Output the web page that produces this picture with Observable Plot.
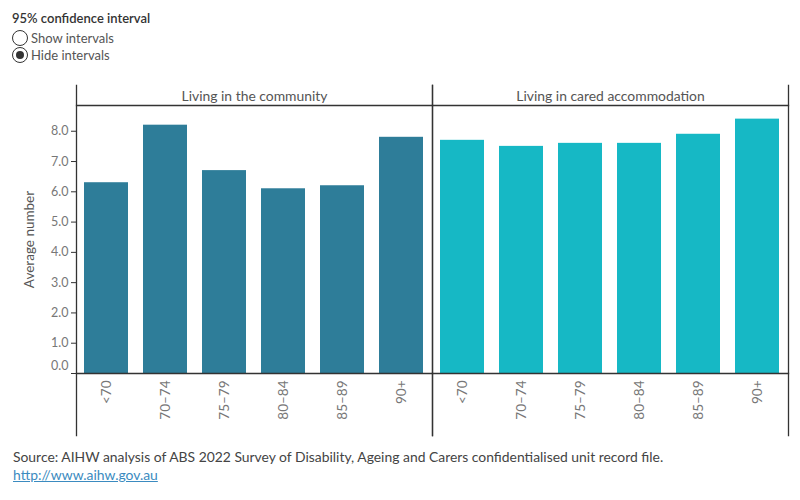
<!DOCTYPE html>
<html>
<head>
<meta charset="utf-8">
<script src="https://cdn.jsdelivr.net/npm/d3@7"></script>
<script src="https://cdn.jsdelivr.net/npm/@observablehq/plot@0.6"></script>
<style>
  body { margin: 0; background: #fff; font-family: Lato, "Open Sans", sans-serif; }
  #controls { position: relative; height: 80px; color: #333; font-size: 13px; }
  #controls .title { position: absolute; left: 12px; top: 10px; font-weight: 600; }
  #controls .opt { position: absolute; left: 12px; display: flex; align-items: center; color: #555; font-size: 13px; }
  #controls .dot { box-sizing: border-box; width: 16px; height: 16px; border: 1.3px solid #333; border-radius: 50%; margin-right: 3px; background: #fff; position: relative; }
  #controls .dot.on::after { content: ""; position: absolute; left: 2.5px; top: 2.5px; width: 8.5px; height: 8.5px; border-radius: 50%; background: #333; }
  #chart svg { display: block; }
  #source { margin: 8px 0 0 13px; font-size: 13.9px; color: #444; line-height: 18px; }
  #source a { color: #3b8bc0; text-decoration: underline; }
</style>
</head>
<body>
<div id="controls">
  <div class="title">95% confidence interval</div>
  <div class="opt" style="top:30px"><span class="dot"></span>Show intervals</div>
  <div class="opt" style="top:47px"><span class="dot on"></span>Hide intervals</div>
</div>
<div id="chart"></div>
<div id="source">Source: AIHW analysis of ABS 2022 Survey of Disability, Ageing and Carers confidentialised unit record file.<br><a href="http://www.aihw.gov.au">http://www.aihw.gov.au</a></div>
<script>
// Living arrangements (facets) and age groups (bars within each facet)
const settings = ["Living in the community", "Living in cared accommodation"];
const ageGroups = ["<70", "70–74", "75–79", "80–84", "85–89", "90+"];

// Average number, by age group
const community = [6.3, 8.2, 6.7, 6.1, 6.2, 7.8];
const caredAccommodation = [7.7, 7.5, 7.6, 7.6, 7.9, 8.4];

// Y axis ticks
const yTicks = [0, 1, 2, 3, 4, 5, 6, 7, 8];

const rows = [
  ...ageGroups.map((age, i) => ({setting: settings[0], age, value: community[i]})),
  ...ageGroups.map((age, i) => ({setting: settings[1], age, value: caredAccommodation[i]}))
];

const line = {stroke: "#333", strokeWidth: 1.3};
const fmt = d3.format(".1f");

const chart = Plot.plot({
  width: 800,
  height: 360,
  marginLeft: 76,
  marginRight: 12,
  marginTop: 25,
  marginBottom: 67,
  style: {fontFamily: "Lato, 'Open Sans', sans-serif", fontSize: "12px", color: "#777", background: "#fff"},
  fx: {domain: settings, padding: 0, label: null},
  x: {domain: ageGroups, paddingInner: 0.25, paddingOuter: 0.1, label: null},
  y: {domain: [0, 8.85], label: null},
  color: {domain: settings, range: ["#2e7d99", "#16b8c5"]},
  marks: [
    Plot.barY(rows, {fx: "setting", x: "age", y: "value", fill: "setting"}),
    Plot.frame({anchor: "left", insetTop: -20, insetBottom: -62, ...line}),
    Plot.frame({anchor: "right", insetTop: -20, insetBottom: -62, ...line}),
    Plot.frame({anchor: "top", ...line}),
    Plot.frame({anchor: "bottom", ...line}),
    Plot.axisY({
      ticks: yTicks,
      tickFormat: d => (d === 0 ? "" : fmt(d)),
      tickSize: 5,
      tickPadding: 3,
      stroke: "#333",
      fill: "#777",
      fontSize: 12.5,
      label: "Average number",
      labelAnchor: "center",
      labelArrow: "none",
      labelOffset: 52
    }),
    Plot.axisY({ticks: [0], tickFormat: fmt, tickSize: 0, tickPadding: 8, dy: -8, fill: "#777", fontSize: 12.5, label: null}),
    Plot.axisX({tickRotate: -90, tickSize: 0, tickPadding: 7, fill: "#777", fontSize: 13.5, label: null}),
    Plot.axisFx({anchor: "top", tickSize: 0, tickPadding: 5, fill: "#555", fontSize: 13.9, label: null})
  ]
});

// the axis title reads a touch larger than the tick labels
d3.select(chart).selectAll("text").filter(function() { return this.textContent === "Average number"; })
  .attr("font-size", 13.5).attr("fill", "#555");

document.getElementById("chart").append(chart);
</script>
</body>
</html>
